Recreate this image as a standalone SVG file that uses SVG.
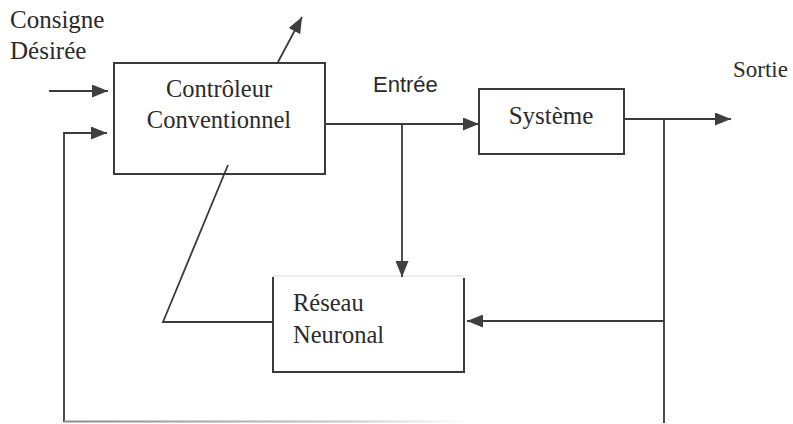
<svg xmlns="http://www.w3.org/2000/svg" width="793" height="424" viewBox="0 0 793 424">
  <defs>
    <marker id="arrow" viewBox="0 0 16 13" refX="16" refY="6.5" markerWidth="16" markerHeight="13" markerUnits="userSpaceOnUse" orient="auto">
      <path d="M0,0 L16,6.5 L0,13 Z" fill="#3f3f3f"/>
    </marker>
    <linearGradient id="fade" gradientUnits="userSpaceOnUse" x1="64" y1="0" x2="470" y2="0">
      <stop offset="0" stop-color="#8a8a8a"/>
      <stop offset="0.7" stop-color="#c8c8c8"/>
      <stop offset="1" stop-color="#ffffff"/>
    </linearGradient>
    <style>
      .box { fill: none; stroke: #3a3a3a; stroke-width: 2; }
      .wire { fill: none; stroke: #3a3a3a; stroke-width: 1.8; }
      .serif { font-family: "Liberation Serif", "Times New Roman", serif; fill: #2a2a2a; }
      .sans { font-family: "Liberation Sans", Arial, sans-serif; fill: #2a2a2a; }
    </style>
  </defs>

  <rect width="793" height="424" fill="#ffffff"/>

  <!-- free labels -->
  <g id="labels">
    <text class="serif" x="10" y="28" font-size="25">Consigne</text>
    <text class="serif" x="10" y="59" font-size="25">Désirée</text>
    <text class="sans" x="373" y="92" font-size="22">Entrée</text>
    <text class="serif" x="733" y="77" font-size="23">Sortie</text>
  </g>

  <!-- controller -->
  <g id="controleur">
    <rect class="box" x="114" y="63" width="211" height="111"/>
    <text class="serif" x="219" y="97" font-size="24.5" text-anchor="middle">Contrôleur</text>
    <text class="serif" x="219" y="128" font-size="24.5" text-anchor="middle">Conventionnel</text>
  </g>

  <!-- plant -->
  <g id="systeme">
    <rect class="box" x="479" y="89" width="145" height="65"/>
    <text class="serif" x="551" y="124" font-size="25" text-anchor="middle">Système</text>
  </g>

  <!-- neural network block (open top) -->
  <g id="reseau">
    <line x1="273" y1="276" x2="464" y2="276" stroke="#e6e6e6" stroke-width="1.5"/>
    <path class="box" d="M273,277 V372 H464 V278"/>
    <text class="serif" x="293" y="311" font-size="24.5">Réseau</text>
    <text class="serif" x="293" y="343" font-size="24.5">Neuronal</text>
  </g>

  <!-- connectors -->
  <g id="connectors">
    <line class="wire" x1="49" y1="91" x2="108" y2="91" marker-end="url(#arrow)"/>
    <path class="wire" d="M64,422 V133 H107" marker-end="url(#arrow)"/>
    <line class="wire" x1="278" y1="62" x2="302" y2="17" marker-end="url(#arrow)"/>
    <line class="wire" x1="325" y1="124" x2="479" y2="124" marker-end="url(#arrow)"/>
    <line class="wire" x1="402" y1="124" x2="402" y2="277" marker-end="url(#arrow)"/>
    <line class="wire" x1="624" y1="119" x2="731" y2="119" marker-end="url(#arrow)"/>
    <line class="wire" x1="664" y1="119" x2="664" y2="423"/>
    <line class="wire" x1="664" y1="321" x2="467" y2="321" marker-end="url(#arrow)"/>
    <path class="wire" d="M273,322 H163 L228,165"/>
    <line x1="64" y1="421.5" x2="470" y2="421.5" stroke="url(#fade)" stroke-width="1.8"/>
  </g>
</svg>
